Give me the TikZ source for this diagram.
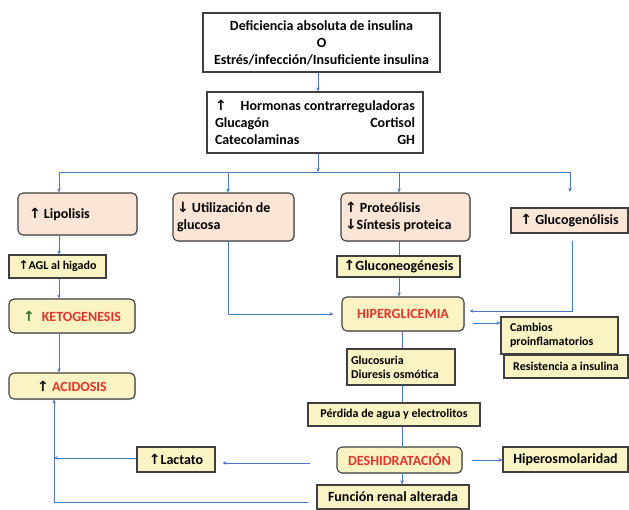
\documentclass[tikz,border=0pt]{standalone}
\usepackage{fontspec}
\setmainfont{Carlito}
\newfontfamily\arrowfont{DejaVu Sans}
\usetikzlibrary{arrows.meta,shadows}

\definecolor{linkblue}{HTML}{4A76C6}
\definecolor{boxedge}{HTML}{404040}
\definecolor{peach}{HTML}{FBE5D6}
\definecolor{pale}{HTML}{FAF4C4}
\definecolor{alertred}{HTML}{E3342B}
\definecolor{arrowgreen}{HTML}{2E6B30}

\newcommand{\up}{{\arrowfont\bfseries ↑}}
\newcommand{\dn}{{\arrowfont\bfseries ↓}}
\newcommand{\bigtext}{\fontsize{14pt}{17pt}\selectfont\bfseries}
\newcommand{\midtext}{\fontsize{12pt}{14pt}\selectfont\bfseries}
\newcommand{\smalltext}{\fontsize{12pt}{14pt}\selectfont\bfseries}

\tikzset{
    link/.style={draw=linkblue, line width=0.8pt},
    arr/.style={link, -{Stealth[length=4pt,width=3.5pt]}},
    shade/.style={drop shadow={shadow xshift=1pt, shadow yshift=-1pt, opacity=0.3}},
    plainbox/.style={draw=boxedge, line width=1.1pt, fill=white, align=center, font=\bigtext, shade},
    peachbox/.style={draw=boxedge, line width=1.1pt, fill=peach, rounded corners=5pt, font=\bigtext, shade},
    palebox/.style={draw=boxedge, line width=1.1pt, fill=pale, align=center, font=\smalltext, shade},
    keybox/.style={palebox, rounded corners=5pt, font=\bigtext}
}

\begin{document}
\begin{tikzpicture}[x=1pt,y=-1pt]
    \fill [white] (0,0) rectangle (629,510);
    \useasboundingbox (0,0) rectangle (629,510);
    % cause and hormones
    \node [plainbox, minimum width=237pt, minimum height=59pt] (cause) at (321.5,42.5) {Deficiencia absoluta de insulina\\O\\Estrés/infección/Insuficiente insulina};
    \node [plainbox, minimum width=216pt, minimum height=61pt, text width=200pt, inner xsep=8pt, align=flush left] (horm) at (315,122.5) {\up\hspace{14pt}Hormonas~contrarreguladoras\\Glucagón\hfill Cortisol\\Catecolaminas\hfill GH};
    % first row of effects
    \node [peachbox, minimum height=42pt, text width=97pt, inner xsep=11pt, align=flush left] (lipo) at (77.5,214) {\up\ Lipolisis};
    \node [peachbox, minimum height=48pt, text width=113pt, inner xsep=4pt, align=flush left] (util) at (233.5,217) {\dn~Utilización~de\\glucosa};
    \node [peachbox, minimum height=48pt, text width=121pt, inner xsep=4pt, align=flush left] (prot) at (405.5,217) {\up~Proteólisis\\\dn Síntesis~proteica};
    \node [peachbox, rounded corners=0pt, minimum width=117pt, minimum height=25pt] (gluco) at (569.5,220.5) {\up\ Glucogenólisis};
    % left column
    \node [palebox, font=\midtext, minimum width=97pt, minimum height=23pt] (agl) at (57.5,266.5) {\up AGL al higado};
    \node [keybox, minimum width=126pt, minimum height=34pt] (keto) at (72,316) {\textcolor{arrowgreen}{\up}\hspace{7pt}\textcolor{alertred}{KETOGENESIS}};
    \node [keybox, minimum width=126pt, minimum height=26pt] (acid) at (72,386) {\up\ \textcolor{alertred}{ACIDOSIS}};
    % middle column
    \node [palebox, font=\bigtext, minimum width=123pt, minimum height=21pt] (glneo) at (398.5,266.5) {\up Gluconeogénesis};
    \node [keybox, minimum width=122pt, minimum height=34pt] (hiper) at (403,314) {\textcolor{alertred}{HIPERGLICEMIA}};
    \node [palebox, minimum height=36pt, text width=100pt, inner xsep=4pt, align=flush left] (glucos) at (401,367) {Glucosuria\\Diuresis~osmótica};
    \node [palebox, minimum width=172pt, minimum height=23pt] (perd) at (394,414.5) {Pérdida de agua y electrolitos};
    \node [keybox, minimum width=125pt, minimum height=26pt] (desh) at (399.5,460) {\textcolor{alertred}{DESHIDRATACIÓN}};
    \node [palebox, font=\bigtext, minimum width=152pt, minimum height=24pt] (func) at (393,497) {Función renal alterada};
    \node [palebox, font=\bigtext, minimum width=78pt, minimum height=25pt] (lact) at (176,459.5) {\up Lactato};
    % right column
    \node [palebox, minimum height=37pt, text width=99pt, inner xsep=9pt, align=flush left] (camb) at (559.5,335.5) {Cambios\\proinflamatorios};
    \node [palebox, minimum width=124pt, minimum height=23pt] (resis) at (566,366.5) {Resistencia a insulina};
    \node [palebox, font=\bigtext, minimum width=125pt, minimum height=25pt] (hipero) at (565.5,459.5) {Hiperosmolaridad};
    % branch points
    \coordinate (split) at (318,172);
    \coordinate (dropL) at (59,172);
    \coordinate (dropU) at (228,172);
    \coordinate (dropP) at (399,172);
    \coordinate (dropR) at (570,172);
    \coordinate (tipR) at (570,192);
    \coordinate (spine) at (402,0);
    \coordinate (backX) at (54,0);
    % top arrows
    \draw [arr] (cause.south -| split) -- (horm.north -| split);
    \draw [arr] (horm.south -| split) -- (split);
    \draw [link] (dropL) -- (dropR);
    \draw [arr] (dropL) -- (dropL |- lipo.north);
    \draw [arr] (dropU) -- (dropU |- util.north);
    \draw [arr] (dropP) -- (dropP |- prot.north);
    \draw [arr] (dropR) -- (tipR);
    % left column arrows
    \draw [arr] (dropL |- lipo.south) -- (dropL |- agl.north);
    \draw [arr] (dropL |- agl.south) -- (dropL |- keto.north);
    \draw [arr] (dropL |- keto.south) -- (dropL |- acid.north);
    % into hiperglicemia
    \draw [arr, shorten >=8pt] (dropU |- util.south) |- (hiper.west);
    \draw [link] (dropP |- prot.south) -- (dropP |- glneo.north);
    \draw [arr] (dropP |- glneo.south) -- (dropP |- hiper.north);
    \draw [arr, shorten <=7pt, shorten >=5pt] ([xshift=2.5pt]gluco.south) |- ([yshift=3pt]hiper.east);
    \draw [arr, shorten <=8pt] ([yshift=-9pt]hiper.east) -- ([yshift=-9pt]hiper.east -| camb.west);
    % down the spine
    \draw [link] (spine |- hiper.south) -- (spine |- glucos.north);
    \draw [link] (spine |- glucos.south) -- (spine |- perd.north);
    \draw [link] (spine |- perd.south) -- (spine |- desh.north);
    \draw [arr] (spine |- desh.south) -- (spine |- func.north);
    \draw [arr, shorten <=9pt] (desh.east) -- (desh.east -| hipero.west);
    % back to acidosis
    \draw [arr, shorten <=26pt, shorten >=7pt] ([yshift=-3pt]desh.west) -- ([yshift=-3pt]desh.west -| lact.east);
    \draw [arr] ([yshift=1.5pt]lact.west) -- ([yshift=1.5pt]lact.west -| backX);
    \draw [arr, shorten <=8pt] ([yshift=-5pt]func.west) -| (acid.south -| backX);
\end{tikzpicture}
\end{document}
